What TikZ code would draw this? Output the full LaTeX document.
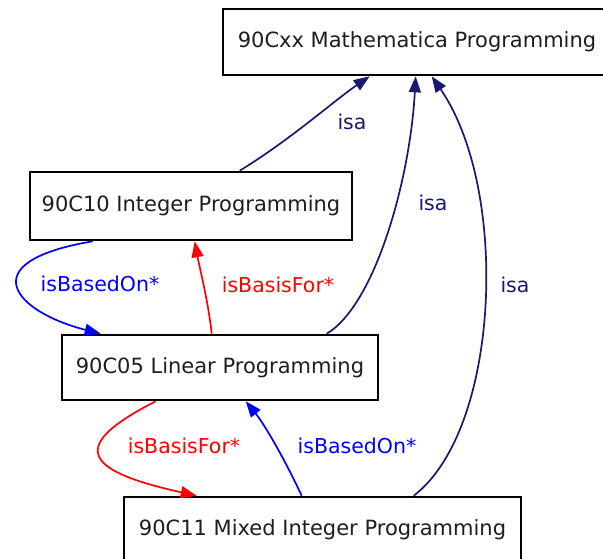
\documentclass[tikz,border=0pt]{standalone}
\usepackage{fontspec}
\setmainfont{DejaVu Sans}
\usetikzlibrary{arrows.meta}
\definecolor{isacol}{RGB}{25,25,112}
\definecolor{basedcol}{RGB}{0,0,255}
\definecolor{basiscol}{RGB}{255,0,0}
\definecolor{boxtext}{RGB}{30,30,30}
\tikzset{
  topic/.style={draw=black, line width=2.6pt, fill=white, rectangle,
    text=boxtext, font=\fontsize{21}{24}\selectfont, inner sep=0pt},
  rel/.style={line width=1.7pt, -{Triangle[length=16pt,width=12pt]}},
  isa/.style={rel, draw=isacol},
  based/.style={rel, draw=basedcol},
  basis/.style={rel, draw=basiscol},
  lab/.style={font=\fontsize{20.5}{24}\selectfont, inner sep=0pt},
}
\begin{document}
\begin{tikzpicture}[x=1pt,y=-1pt]
  \clip (0,0) rectangle (603,559);
  \fill[white] (0,0) rectangle (603,559);

  % topics
  \node[topic, minimum width=388pt, minimum height=66pt] (math) at (417,42)
    {90Cxx Mathematica Programming};
  \node[topic, minimum width=322pt, minimum height=68pt] (int) at (191,206)
    {90C10 Integer Programming};
  \node[topic, minimum width=316pt, minimum height=65pt] (lin) at (220,367.5)
    {90C05 Linear Programming};
  \node[topic, minimum width=397pt, minimum height=66pt] (mix) at (322.5,530)
    {90C11 Mixed Integer Programming};

  % isa relations
  \draw[isa] ([xshift=211pt]int.north west) .. controls (290,140) and (335,100) ..
    ([xshift=148pt]math.south west);
  \draw[isa] ([xshift=266pt]lin.north west) .. controls (375,305) and (410,180) ..
    ([xshift=194pt]math.south west);
  \draw[isa] ([xshift=291pt]mix.north west) .. controls (500,430) and (510,190) ..
    ([xshift=210pt]math.south west);

  % isBasedOn* / isBasisFor* relations
  \draw[based] ([xshift=64pt]int.south west) .. controls (-30,262) and (15,312) ..
    ([xshift=40pt]lin.north west);
  \draw[basis] ([xshift=151pt]lin.north west) .. controls (208,300) and (200,270) ..
    ([xshift=166pt]int.south west);
  \draw[basis] ([xshift=95pt]lin.south west) .. controls (70,445) and (80,470) ..
    ([xshift=74pt]mix.north west);
  \draw[based] ([xshift=179pt]mix.north west) .. controls (285,460) and (265,425) ..
    ([xshift=185pt]lin.south west);

  % labels
  \node[lab, text=isacol] (l1) at (352,122) {isa};
  \node[lab, text=isacol] (l2) at (433,203) {isa};
  \node[lab, text=isacol] (l3) at (515,285) {isa};
  \node[lab, text=basedcol] (l4) at (100,284) {isBasedOn*};
  \node[lab, text=basiscol] (l5) at (278,285) {isBasisFor*};
  \node[lab, text=basiscol] (l6) at (184,446) {isBasisFor*};
  \node[lab, text=basedcol] (l7) at (357,446) {isBasedOn*};
\end{tikzpicture}
\end{document}
